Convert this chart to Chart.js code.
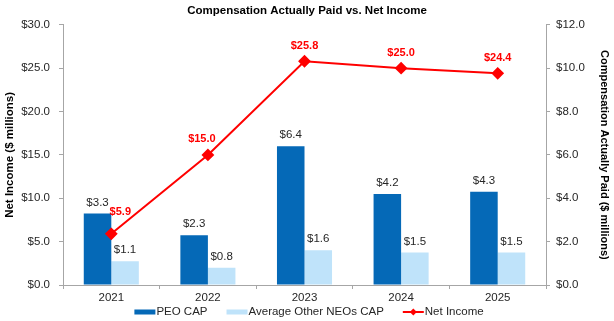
<!DOCTYPE html>
<html>
<head>
<meta charset="utf-8">
<script src="https://cdn.jsdelivr.net/npm/chart.js@4.4.1/dist/chart.umd.min.js"></script>
<style>
  html, body { margin: 0; padding: 0; background: #ffffff; }
  #wrap { width: 614px; height: 321px; position: relative; }
</style>
</head>
<body>
<div id="wrap"><canvas id="c" width="614" height="321"></canvas></div>
<script>
const years = ['2021', '2022', '2023', '2024', '2025'];
const peoCap = [3.3, 2.3, 6.4, 4.2, 4.3];
const neoCap = [1.1, 0.8, 1.6, 1.5, 1.5];
const netIncome = [5.9, 15.0, 25.8, 25.0, 24.4];
const seriesNames = ['PEO CAP', 'Average Other NEOs CAP', 'Net Income'];
const chartTitle = 'Compensation Actually Paid vs. Net Income';
const leftAxisTitle = 'Net Income ($ millions)';
const rightAxisTitle = 'Compensation Actually Paid ($ millions)';

const FONT = "'Liberation Sans', Arial, Helvetica, sans-serif";
const DARK = '#0569B7';
const LIGHT = '#BFE3FA';
const RED = '#FF0000';
const AXIS = '#A6A6A6';
const TEXT = '#262626';

const money = v => '$' + v.toFixed(1);

const labelPlugin = {
  id: 'valueLabels',
  afterDatasetsDraw(chart) {
    const ctx = chart.ctx;
    ctx.save();
    ctx.textAlign = 'center';
    ctx.textBaseline = 'middle';
    // bar labels
    [0, 1].forEach(di => {
      const meta = chart.getDatasetMeta(di);
      ctx.font = '11.5px ' + FONT;
      ctx.fillStyle = TEXT;
      meta.data.forEach((el, i) => {
        ctx.fillText(money(chart.data.datasets[di].data[i]), el.x, el.y - 11);
      });
    });
    // line labels
    const meta = chart.getDatasetMeta(2);
    ctx.font = 'bold 11px ' + FONT;
    ctx.fillStyle = RED;
    meta.data.forEach((el, i) => {
      let dx = 0, dy = -15;
      if (i === 0) { dx = 9; dy = -22; }
      if (i === 1) { dx = -6; dy = -16; }
      ctx.fillText(money(netIncome[i]), el.x + dx, el.y + dy);
    });
    ctx.restore();
  }
};

const legendPlugin = {
  id: 'customLegend',
  afterDraw(chart) {
    const ctx = chart.ctx;
    ctx.save();
    ctx.font = '11.5px ' + FONT;
    ctx.textBaseline = 'middle';
    ctx.fillStyle = TEXT;
    const y = 312;
    const boxW = 21, gap = 1, itemGap = 19;
    const widths = seriesNames.map(n => boxW + gap + ctx.measureText(n).width);
    const total = widths.reduce((a, b) => a + b, 0) + itemGap * (seriesNames.length - 1);
    let x = 307 - total / 2 + 2;
    seriesNames.forEach((n, i) => {
      if (i < 2) {
        ctx.fillStyle = i === 0 ? DARK : LIGHT;
        ctx.fillRect(x, y - 2.5, boxW, 5);
      } else {
        ctx.strokeStyle = RED;
        ctx.lineWidth = 2;
        ctx.beginPath();
        ctx.moveTo(x, y);
        ctx.lineTo(x + boxW, y);
        ctx.stroke();
        ctx.fillStyle = RED;
        ctx.beginPath();
        const cx = x + boxW / 2;
        ctx.moveTo(cx, y - 3.5);
        ctx.lineTo(cx + 3.5, y);
        ctx.lineTo(cx, y + 3.5);
        ctx.lineTo(cx - 3.5, y);
        ctx.closePath();
        ctx.fill();
      }
      ctx.fillStyle = TEXT;
      ctx.fillText(n, x + boxW + gap, y);
      x += widths[i] + itemGap;
    });
    ctx.restore();
  }
};

new Chart(document.getElementById('c'), {
  data: {
    labels: years,
    datasets: [
      { type: 'bar', label: seriesNames[0], data: peoCap, backgroundColor: DARK, yAxisID: 'y1', order: 2,
        categoryPercentage: 0.57, barPercentage: 1.0 },
      { type: 'bar', label: seriesNames[1], data: neoCap, backgroundColor: LIGHT, yAxisID: 'y1', order: 2,
        categoryPercentage: 0.57, barPercentage: 1.0 },
      { type: 'line', label: seriesNames[2], data: netIncome, borderColor: RED, backgroundColor: RED,
        borderWidth: 2, pointStyle: 'rectRot', pointRadius: 5, pointHoverRadius: 5, yAxisID: 'y', order: 1,
        tension: 0 }
    ]
  },
  options: {
    responsive: false,
    animation: false,
    layout: { padding: { top: 0, bottom: 20, left: 0, right: 0 } },
    plugins: {
      legend: { display: false },
      tooltip: { enabled: false },
      title: {
        display: true, text: chartTitle, color: '#000',
        font: { family: FONT, size: 11.5, weight: 'bold' },
        padding: { top: 4, bottom: 7 }
      }
    },
    scales: {
      x: {
        offset: true,
        grid: { offset: true, drawOnChartArea: false, drawTicks: true, tickLength: 4, color: AXIS },
        border: { color: AXIS, width: 1 },
        ticks: { color: TEXT, font: { family: FONT, size: 11.5 }, padding: 2 },
        afterFit(s) { s.height = 16; }
      },
      y: {
        position: 'left', min: 0, max: 30,
        ticks: { stepSize: 5, color: TEXT, font: { family: FONT, size: 11.5 }, padding: 9,
          callback: v => money(v) },
        grid: { drawOnChartArea: false, drawTicks: true, tickLength: 4, color: AXIS },
        border: { color: AXIS, width: 1 },
        title: { display: true, text: leftAxisTitle, color: '#000',
          font: { family: FONT, size: 11.5, weight: 'bold' }, padding: { top: 3, bottom: 0 } },
        afterFit(s) { s.width = 63; }
      },
      y1: {
        position: 'right', min: 0, max: 12,
        ticks: { stepSize: 2, color: TEXT, font: { family: FONT, size: 11.5 }, padding: 6,
          callback: v => money(v) },
        grid: { drawOnChartArea: false, drawTicks: true, tickLength: 4, color: AXIS },
        border: { color: AXIS, width: 1 },
        title: { display: true, text: rightAxisTitle, color: '#000',
          font: { family: FONT, size: 11, weight: 'bold' }, padding: { top: 3, bottom: 0 } },
        afterFit(s) { s.width = 68; }
      }
    }
  },
  plugins: [labelPlugin, legendPlugin]
});
</script>
</body>
</html>
